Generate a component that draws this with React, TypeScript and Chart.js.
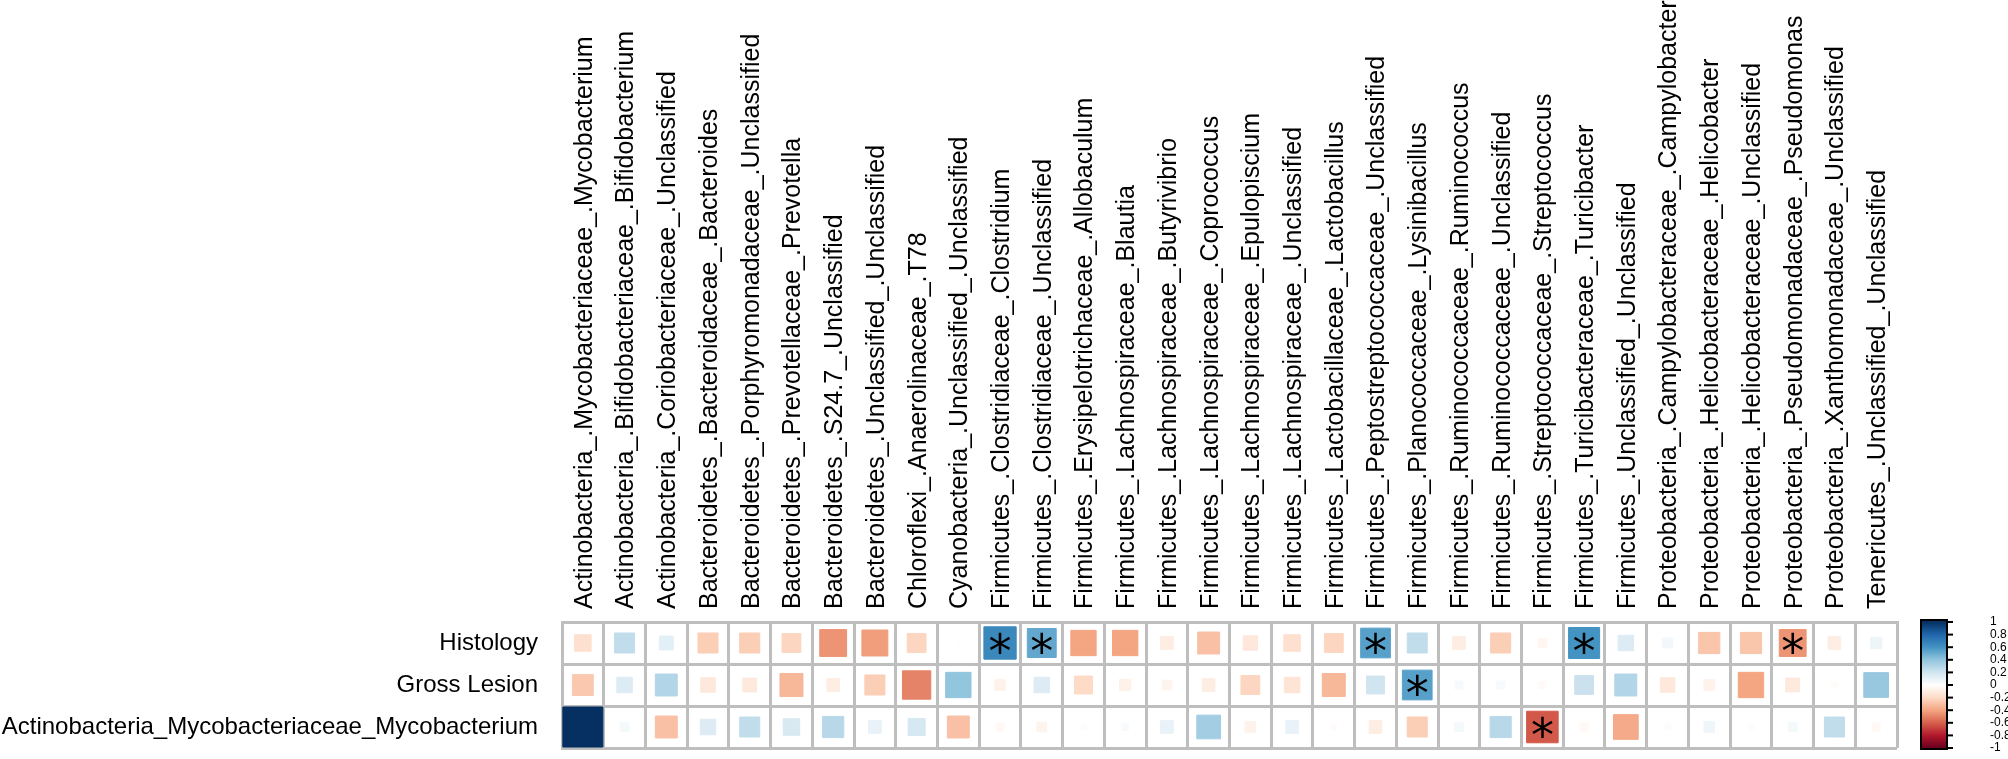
import { useEffect, useRef } from "react";
import { Chart, registerables } from "chart.js";

Chart.register(...registerables);

const columnLabels = [
  "Actinobacteria_.Mycobacteriaceae_.Mycobacterium",
  "Actinobacteria_.Bifidobacteriaceae_.Bifidobacterium",
  "Actinobacteria_.Coriobacteriaceae_.Unclassified",
  "Bacteroidetes_.Bacteroidaceae_.Bacteroides",
  "Bacteroidetes_.Porphyromonadaceae_.Unclassified",
  "Bacteroidetes_.Prevotellaceae_.Prevotella",
  "Bacteroidetes_.S24.7_.Unclassified",
  "Bacteroidetes_.Unclassified_.Unclassified",
  "Chloroflexi_.Anaerolinaceae_.T78",
  "Cyanobacteria_.Unclassified_.Unclassified",
  "Firmicutes_.Clostridiaceae_.Clostridium",
  "Firmicutes_.Clostridiaceae_.Unclassified",
  "Firmicutes_.Erysipelotrichaceae_.Allobaculum",
  "Firmicutes_.Lachnospiraceae_.Blautia",
  "Firmicutes_.Lachnospiraceae_.Butyrivibrio",
  "Firmicutes_.Lachnospiraceae_.Coprococcus",
  "Firmicutes_.Lachnospiraceae_.Epulopiscium",
  "Firmicutes_.Lachnospiraceae_.Unclassified",
  "Firmicutes_.Lactobacillaceae_.Lactobacillus",
  "Firmicutes_.Peptostreptococcaceae_.Unclassified",
  "Firmicutes_.Planococcaceae_.Lysinibacillus",
  "Firmicutes_.Ruminococcaceae_.Ruminococcus",
  "Firmicutes_.Ruminococcaceae_.Unclassified",
  "Firmicutes_.Streptococcaceae_.Streptococcus",
  "Firmicutes_.Turicibacteraceae_.Turicibacter",
  "Firmicutes_.Unclassified_.Unclassified",
  "Proteobacteria_.Campylobacteraceae_.Campylobacter",
  "Proteobacteria_.Helicobacteraceae_.Helicobacter",
  "Proteobacteria_.Helicobacteraceae_.Unclassified",
  "Proteobacteria_.Pseudomonadaceae_.Pseudomonas",
  "Proteobacteria_.Xanthomonadaceae_.Unclassified",
  "Tenericutes_.Unclassified_.Unclassified",
];

const rowLabels = [
  "Histology",
  "Gross Lesion",
  "Actinobacteria_Mycobacteriaceae_Mycobacterium",
];

const histology = [
  -0.17, 0.25, 0.12, -0.25, -0.25, -0.22, -0.45, -0.42, -0.22, 0.01,
  0.65, 0.52, -0.4, -0.4, -0.1, -0.3, -0.13, -0.17, -0.22, 0.55,
  0.25, -0.1, -0.25, -0.05, 0.6, 0.15, 0.06, -0.28, -0.28, -0.45,
  -0.1, 0.08,
];

const grossLesion = [
  -0.27, 0.15, 0.3, -0.13, -0.12, -0.33, -0.1, -0.25, -0.5, 0.4,
  -0.07, 0.15, -0.2, -0.08, -0.06, -0.1, -0.22, -0.15, -0.33, 0.2,
  0.55, 0.04, 0.04, -0.03, 0.22, 0.3, -0.13, -0.07, -0.4, -0.12,
  -0.02, 0.38,
];

const mycobacterium = [
  1, 0.05, -0.3, 0.15, 0.25, 0.17, 0.28, 0.1, 0.18, -0.3,
  -0.04, -0.06, 0.02, 0.03, 0.1, 0.35, -0.07, 0.1, -0.02, -0.1,
  -0.25, 0.05, 0.28, -0.62, -0.04, -0.38, 0.02, 0.07, 0.02, 0.05,
  0.25, -0.04,
];

// zero-based column indices of significant cells (marked with *)
const histologySig = [10, 11, 19, 24, 29];
const grossLesionSig = [20];
const mycobacteriumSig = [23];

const colorbarTicks = [1, 0.8, 0.6, 0.4, 0.2, 0, -0.2, -0.4, -0.6, -0.8, -1];

const paletteStops = [
  "#67001F", "#B2182B", "#D6604D", "#F4A582", "#FDDBC7", "#FFFFFF",
  "#D1E5F0", "#92C5DE", "#4393C3", "#2166AC", "#053061",
];

const FONT = "'Liberation Sans', Arial, sans-serif";

function hexToRgb(h: string) {
  return [
    parseInt(h.slice(1, 3), 16),
    parseInt(h.slice(3, 5), 16),
    parseInt(h.slice(5, 7), 16),
  ];
}

function colorFor(v: number) {
  const n = paletteStops.length - 1;
  const t = ((Math.max(-1, Math.min(1, v)) + 1) / 2) * n;
  const i = Math.min(Math.floor(t), n - 1);
  const f = t - i;
  const a = hexToRgb(paletteStops[i]);
  const b = hexToRgb(paletteStops[i + 1]);
  const c = a.map((x, k) => Math.round(x + (b[k] - x) * f));
  return `rgb(${c[0]},${c[1]},${c[2]})`;
}

const rowValues = [histology, grossLesion, mycobacterium];
const rowSig = [histologySig, grossLesionSig, mycobacteriumSig];

const GRID = "#BEBEBE";

export default function App() {
  const ref = useRef<HTMLCanvasElement>(null);

  useEffect(() => {
    if (!ref.current) return;

    const cells: any[] = [];
    rowValues.forEach((vals, r) =>
      vals.forEach((v, c) => cells.push({ x: columnLabels[c], y: rowLabels[r], v }))
    );
    const stars: any[] = [];
    rowSig.forEach((idx, r) =>
      idx.forEach((c) => stars.push({ x: columnLabels[c], y: rowLabels[r] }))
    );

    const cellSide = (chart: any) => {
      const xs = chart.scales.x;
      return (xs.right - xs.left) / columnLabels.length;
    };

    const starPlugin = {
      id: "stars",
      afterDatasetsDraw(chart: any) {
        const meta = chart.getDatasetMeta(1);
        const ctx = chart.ctx;
        ctx.save();
        ctx.fillStyle = "#000";
        ctx.font = `46px 'DejaVu Sans', ${FONT}`;
        ctx.textAlign = "left";
        ctx.textBaseline = "alphabetic";
        const m = ctx.measureText("*");
        const dx = (m.actualBoundingBoxRight - m.actualBoundingBoxLeft) / 2;
        const dy = (m.actualBoundingBoxAscent - m.actualBoundingBoxDescent) / 2;
        meta.data.forEach((el: any) => {
          ctx.fillText("*", el.x - dx, el.y + dy);
        });
        ctx.restore();
      },
    };

    const colorbarPlugin = {
      id: "colorbar",
      afterDraw(chart: any) {
        const s = chart.scales.cb;
        const ctx = chart.ctx;
        const x0 = 1921;
        const w = 26;
        const top = s.getPixelForValue(1) - 2;
        const bottom = s.getPixelForValue(-1) + 1;
        const g = ctx.createLinearGradient(0, s.getPixelForValue(-1), 0, s.getPixelForValue(1));
        paletteStops.forEach((c, i) => g.addColorStop(i / (paletteStops.length - 1), c));
        ctx.save();
        ctx.fillStyle = g;
        ctx.fillRect(x0, top, w, bottom - top);
        ctx.strokeStyle = "#000";
        ctx.lineWidth = 2;
        ctx.strokeRect(x0, top, w, bottom - top);
        colorbarTicks.forEach((v) => {
          const y = s.getPixelForValue(v);
          ctx.beginPath();
          ctx.moveTo(x0 + w, y);
          ctx.lineTo(x0 + w + 6, y);
          ctx.stroke();
        });
        ctx.restore();
      },
    };

    const chart = new Chart(ref.current, {
      type: "scatter",
      data: {
        datasets: [
          {
            data: cells,
            pointStyle: "rect",
            backgroundColor: (ctx: any) => (ctx.raw ? colorFor(ctx.raw.v) : "#fff"),
            borderColor: (ctx: any) => (ctx.raw ? colorFor(ctx.raw.v) : "#fff"),
            borderWidth: 1,
            pointRadius: (ctx: any) => {
              if (!ctx.raw) return 0;
              const side = cellSide(ctx.chart) * 0.96 * Math.sqrt(Math.abs(ctx.raw.v));
              return side / Math.SQRT2;
            },
          } as any,
          {
            data: stars,
            pointRadius: 0,
          } as any,
        ],
      },
      options: {
        animation: false,
        responsive: true,
        maintainAspectRatio: false,
        events: [],
        layout: { padding: { top: 0, left: 0, right: 0, bottom: 11 } },
        plugins: {
          legend: { display: false },
          tooltip: { enabled: false },
        },
        scales: {
          x: {
            type: "category",
            labels: columnLabels,
            position: "top",
            offset: true,
            grid: { offset: true, color: GRID, lineWidth: 3, drawTicks: false },
            border: { display: true, color: GRID, width: 3 },
            ticks: {
              autoSkip: false,
              minRotation: 90,
              maxRotation: 90,
              padding: 13,
              labelOffset: 32,
              color: "#000",
              font: { size: 25, family: FONT },
            },
            afterFit: (s: any) => {
              s.height = 622;
              s.paddingLeft = 0;
              s.paddingRight = 0;
            },
          },
          y: {
            type: "category",
            labels: rowLabels,
            position: "left",
            offset: true,
            grid: { offset: true, color: GRID, lineWidth: 3, drawTicks: false },
            border: { display: true, color: GRID, width: 3 },
            ticks: {
              padding: 24,
              color: "#000",
              font: { size: 24, family: FONT },
            },
            afterFit: (s: any) => {
              s.width = 562;
              s.paddingTop = 0;
              s.paddingBottom = 0;
            },
          },
          cb: {
            type: "linear",
            position: "right",
            min: -1,
            max: 1,
            grid: { display: false, drawOnChartArea: false },
            border: { display: false },
            ticks: {
              autoSkip: false,
              padding: 85,
              color: "#000",
              font: { size: 12, family: FONT },
              callback: (v: any) => String(v),
            },
            afterBuildTicks: (s: any) => {
              s.ticks = colorbarTicks.map((value) => ({ value }));
            },
            afterFit: (s: any) => {
              s.width = 111;
              s.paddingTop = 0;
              s.paddingBottom = 0;
            },
          },
        } as any,
      },
      plugins: [starPlugin, colorbarPlugin],
    });

    return () => chart.destroy();
  }, []);

  return (
    <div
      style={{
        position: "fixed",
        left: 0,
        top: 0,
        width: 2008,
        height: 759,
        background: "#fff",
      }}
    >
      <canvas ref={ref} />
    </div>
  );
}
